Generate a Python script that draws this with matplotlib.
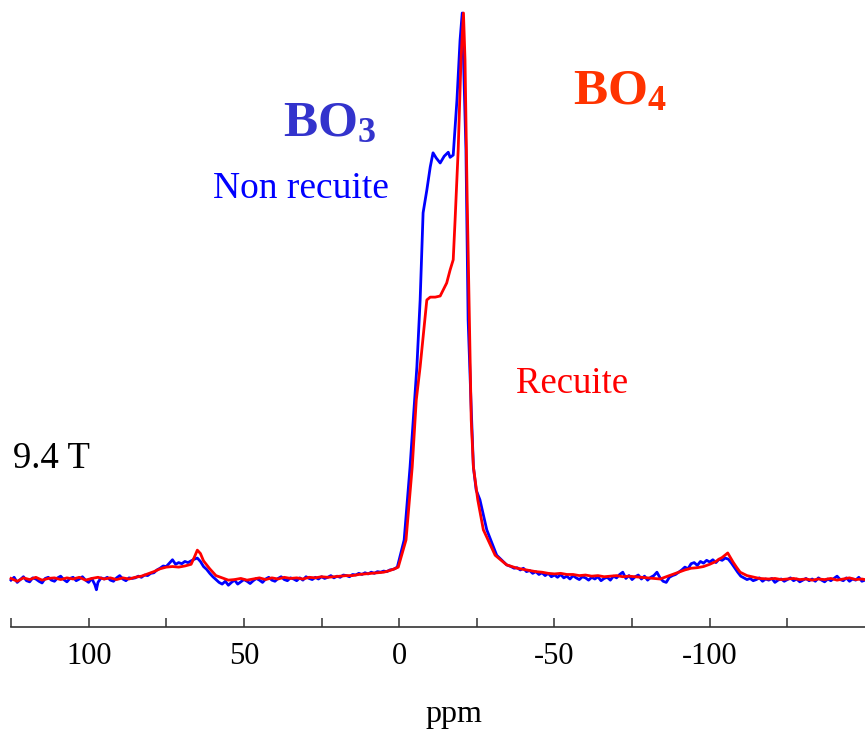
import matplotlib
matplotlib.use("Agg")
import matplotlib.pyplot as plt

plt.rcParams['font.family'] = ['Liberation Serif', 'DejaVu Serif']
plt.rcParams['mathtext.fontset'] = 'custom'
plt.rcParams['mathtext.rm'] = 'Liberation Serif'
plt.rcParams['mathtext.bf'] = 'Liberation Serif:bold'

# ---- data: Non recuite (blue) ----
ppm_blue = [125, 124, 123, 122, 121, 120, 119, 118, 117, 116, 115, 114, 113, 112, 111, 110,
            109, 108, 107, 106, 105, 104, 103, 102, 101, 100, 99, 98, 97.5, 97, 96, 95, 94,
            93, 92, 91, 90, 89, 88, 87, 86,
            85, 84, 83, 82, 81, 80, 79, 78, 77, 76, 75, 74, 73, 72, 71, 70, 69, 68, 67, 66,
            65, 64, 63, 62, 61, 60, 59, 58, 57, 56, 55, 54, 53, 52, 51, 50, 49, 48, 47, 46,
            45, 44, 43, 42, 41, 40, 39, 38, 37, 36, 35, 34, 33, 32, 31, 30, 29, 28, 27, 26,
            25, 24, 23, 22, 21, 20, 19, 18, 17, 16, 15, 14, 13, 12, 11, 10, 9, 8, 7, 6, 5, 4,
            3, 2, 1.5,
            0.6, -1.6, -3.5, -5.7, -6.75, -7.7, -8.9, -10.0, -10.9, -11.9, -13.2, -14.5,
            -15.8, -16.4, -17.4, -18.6, -19.6, -20.3, -21.5, -22.2, -23.1, -23.9, -24.8,
            -26.0, -28.2, -31.4, -34.6,
            -36, -37, -38, -39, -40, -41, -42, -43, -44, -45, -46, -47, -48, -49, -50, -51,
            -52, -53, -54, -55, -56, -57, -58, -59, -60, -61, -62, -63, -64, -65, -66, -67,
            -68, -69, -70, -71, -72, -73, -74, -75, -76, -77, -78, -79, -80, -81, -82, -83,
            -84, -85, -86, -87, -88, -89, -90, -91, -92, -93, -94, -95, -96, -97, -98, -99,
            -100, -101, -102, -103, -104, -105, -106, -107, -108, -109, -110, -111, -112,
            -113, -114, -115, -116, -117, -118, -119, -120, -121, -122, -123, -124, -125,
            -126, -127, -128, -129, -130, -131, -132, -133, -134, -135, -136, -137, -138,
            -139, -140, -141, -142, -143, -144, -145, -146, -147, -148, -149, -150]
int_blue = [-0.002, 0.003, -0.006, -0.001, 0.004, -0.003, -0.005, 0.002, 0.000, -0.004, -0.007,
            0.001, 0.003, -0.002, -0.004, 0.002, 0.005, -0.001, -0.005, 0.001, 0.003, -0.003,
            0.000, 0.004, -0.002, -0.006, 0.001, -0.010, -0.019, -0.006, 0.002, 0.000, 0.003,
            -0.002, -0.004, 0.002, 0.006, 0.000, -0.003, 0.002, 0.001,
            0.002, 0.005, 0.003, 0.007, 0.006, 0.010, 0.011, 0.016, 0.019, 0.023, 0.022, 0.028,
            0.034, 0.026, 0.029, 0.027, 0.031, 0.029, 0.032, 0.035,
            0.037, 0.031, 0.022, 0.017, 0.010, 0.004, -0.001, -0.006, -0.009, -0.004, -0.011,
            -0.006, -0.002, -0.009, -0.005, -0.001, -0.004, -0.008, -0.003, 0.001,
            -0.002, -0.006, 0.000, 0.003, -0.002, -0.004, 0.001, 0.004, -0.001, -0.003, 0.002,
            0.000, -0.003, 0.002, -0.002, 0.004, 0.001, -0.001, 0.003, 0.000,
            0.004, 0.001, 0.003, 0.006, 0.002, 0.005, 0.003, 0.007, 0.006, 0.004, 0.008, 0.007,
            0.010, 0.008, 0.011, 0.009, 0.012, 0.010, 0.013, 0.012, 0.014, 0.013,
            0.016, 0.017, 0.018,
            0.021, 0.069, 0.198, 0.375, 0.493, 0.647, 0.687, 0.728, 0.753, 0.744, 0.735, 0.747,
            0.754, 0.745, 0.749, 0.846, 0.952, 1.0, 0.758, 0.458, 0.316, 0.198, 0.157,
            0.140, 0.087, 0.042, 0.025,
            0.022, 0.019, 0.020, 0.016, 0.019, 0.013, 0.015, 0.010, 0.013, 0.008, 0.011, 0.006,
            0.010, 0.004, 0.007, 0.003,
            0.008, 0.002, 0.005, 0.000, 0.006, 0.002, -0.001, 0.004, 0.002, -0.002, 0.003,
            0.000, 0.004, -0.003, 0.001, 0.003,
            -0.002, 0.005, 0.002, 0.008, 0.012, 0.001, 0.006, -0.001, 0.004, 0.007, 0.000,
            0.005, -0.002, 0.003, 0.006, 0.012,
            0.002, -0.004, -0.006, 0.003, 0.006, 0.008, 0.012, 0.016, 0.021, 0.018, 0.027,
            0.029, 0.024, 0.031, 0.028, 0.033,
            0.030, 0.034, 0.029, 0.035, 0.033, 0.037, 0.035, 0.028, 0.020, 0.012, 0.005,
            0.002, -0.001,
            0.001, -0.003, -0.001, 0.002, -0.004, 0.000, -0.002, 0.001, -0.006, -0.002, 0.000,
            -0.004, -0.001,
            0.002, -0.003, 0.000, -0.005, -0.002, 0.001, -0.003, 0.000, -0.004, 0.002, -0.002,
            -0.005, 0.000,
            -0.003, 0.001, 0.005, -0.001, -0.003, 0.002, -0.004, 0.000, -0.002, 0.003, -0.004,
            -0.002]

# ---- data: Recuite (red) ----
ppm_red = [125, 123, 121, 119, 117, 115, 113, 111, 109, 107, 105, 103, 101, 99, 97, 95,
           93, 91, 89, 87, 85, 83, 81, 79, 77, 75, 73, 71, 69, 67, 66, 65, 64, 63, 61, 59,
           57, 55, 53, 51, 49, 47, 45, 43, 41, 39, 37, 35, 33, 31, 29, 27, 25, 23, 21, 19,
           17, 15, 13, 11, 9, 7, 5, 3, 1.5,
           0.3, -2.2, -4.2, -5.5, -6.75, -8.9, -10.0, -11.6, -13.2, -14.1, -15.3, -16.4,
           -17.4, -18.0, -19.0, -19.9, -20.7, -21.2, -21.9, -22.6, -23.2, -23.9, -25.3,
           -27.1, -30.9, -34.6,
           -38, -40, -42, -44, -46, -48, -50, -52, -54, -56, -58, -60, -62, -64, -66, -68,
           -70, -72, -74, -76, -78, -80, -82, -84, -86, -88, -90, -92, -94, -96, -98, -100,
           -102, -103, -104, -105.8, -107.5, -108.6, -109.8, -112, -116, -119, -121, -123,
           -125, -127, -129, -131, -133, -135, -137, -139, -141, -143, -145, -147, -149, -150]
int_red = [0.001, -0.004, 0.002, -0.001, 0.003, -0.002, 0.001, 0.002, -0.001, 0.002, 0.000,
           0.003, -0.002, 0.001, 0.003, 0.000,
           0.002, -0.001, 0.002, 0.000, 0.003, 0.005, 0.009, 0.013, 0.018, 0.021, 0.022,
           0.021, 0.023, 0.026, 0.038, 0.051, 0.045, 0.032, 0.018, 0.006,
           0.002, -0.002, -0.001, 0.001, -0.002, 0.000, 0.002, -0.001, 0.002, 0.000, 0.003,
           0.001, 0.002, 0.000, 0.003, 0.002, 0.004, 0.003, 0.004, 0.005,
           0.006, 0.006, 0.008, 0.009, 0.010, 0.011, 0.012, 0.015, 0.018,
           0.021, 0.069, 0.198, 0.316, 0.375, 0.493, 0.498, 0.498, 0.500, 0.510, 0.523, 0.546,
           0.564, 0.634, 0.758, 0.917, 1.0, 0.917, 0.670, 0.458, 0.281, 0.198, 0.140,
           0.087, 0.042, 0.025,
           0.019, 0.017, 0.015, 0.013, 0.012, 0.010, 0.009, 0.010, 0.008, 0.008, 0.006, 0.007,
           0.005, 0.006, 0.004, 0.005, 0.006, 0.004, 0.005, 0.004, 0.003, 0.002, 0.001,
           0.000, 0.004, 0.008, 0.012, 0.016, 0.019, 0.020, 0.022, 0.026,
           0.031, 0.035, 0.038, 0.046, 0.030, 0.021, 0.012, 0.006, 0.001, 0.000, 0.001, -0.001,
           0.000, 0.001, -0.001, 0.000, -0.002, 0.000, -0.001, 0.001, -0.002, 0.000, 0.002,
           -0.001, 0.000, -0.001]

tick_major = [100, 50, 0, -50, -100]
tick_minor = [125, 75, 25, -25, -75, -125]

W, H = 865, 731
fig = plt.figure(figsize=(W / 100, H / 100), dpi=100)
ax = fig.add_axes([11 / W, (H - 627) / H, (W - 11) / W, (627 - 13) / H])

ax.plot(ppm_blue, int_blue, color='#0000ff', lw=2.0, solid_joinstyle='round', clip_on=False)
ax.plot(ppm_red, int_red, color='#ff0000', lw=2.0, solid_joinstyle='round', clip_on=False)

ax.set_xlim(125, -150)
ax.set_ylim(-(627 - 579) / 566, 1.0)

for s in ['top', 'right', 'left']:
    ax.spines[s].set_visible(False)
ax.spines['bottom'].set_color('#333333')
ax.spines['bottom'].set_linewidth(1.2)
ax.set_yticks([])
ax.set_xticks(tick_major)
ax.set_xticks(tick_minor, minor=True)
ax.set_xticklabels([str(t) for t in tick_major])
ax.tick_params(axis='x', which='both', direction='in', length=6.5, width=1.1,
               color='#333333', labelsize=22, pad=11)
ax.tick_params(axis='x', which='minor', labelbottom=False)


def px(x, y):
    return x / W, (H - y) / H


fig.text(*px(454, 722), 'ppm', fontsize=23, ha='center', va='baseline')
fig.text(*px(283, 136), r'$\mathbf{BO_3}$', fontsize=37, color='#3333cc', ha='left', va='baseline')
fig.text(*px(213, 198), 'Non recuite', fontsize=27, color='#0000ff', ha='left', va='baseline')
fig.text(*px(573, 104), r'$\mathbf{BO_4}$', fontsize=37, color='#ff3300', ha='left', va='baseline')
fig.text(*px(516, 393), 'Recuite', fontsize=26.5, color='#ff0000', ha='left', va='baseline')
fig.text(*px(13, 468), '9.4 T', fontsize=26.5, color='black', ha='left', va='baseline')

fig.savefig('out.png', dpi=100)
